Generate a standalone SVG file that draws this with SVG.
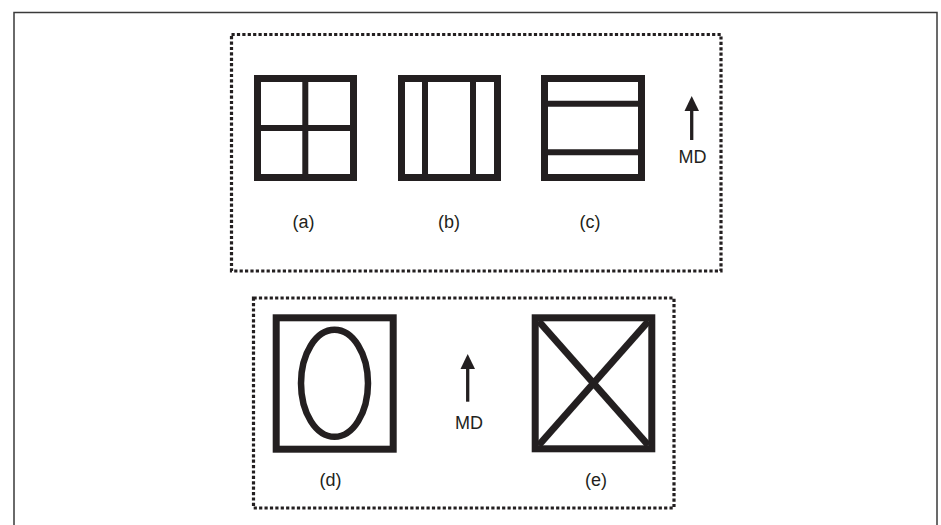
<svg xmlns="http://www.w3.org/2000/svg" width="941" height="525" viewBox="0 0 941 525">
<style>
.frame{fill:none;stroke:#3a3a3a;stroke-width:1.5}
.dot{fill:none;stroke:#231f20;stroke-width:3.2;stroke-dasharray:3.2 2.2}
.box{fill:none;stroke:#231f20;stroke-width:7}
.bar{stroke:#231f20;stroke-width:6}
.lbl{font-family:"Liberation Sans",Arial,sans-serif;font-size:18px;fill:#231f20;text-anchor:middle}
.ar{stroke:#231f20;stroke-width:3.3}
.ah{fill:#231f20}
</style>
<rect width="941" height="525" fill="#fff"/>
<rect class="frame" x="14" y="12.5" width="923" height="530"/>
<g id="group-top">
<rect class="dot" x="231.5" y="34.5" width="489.5" height="236.5"/>
</g>
<g id="group-bottom">
<rect class="dot" x="253.5" y="298" width="420.5" height="210"/>
</g>
<g id="node-a">
<rect class="box" x="257.5" y="78.5" width="96" height="99"/>
<line class="bar" x1="305.3" y1="78.5" x2="305.3" y2="177.5"/>
<line class="bar" x1="257.5" y1="128" x2="353.5" y2="128"/>
<text class="lbl" x="303.5" y="227.5">(a)</text>
</g>
<g id="node-b">
<rect class="box" x="401.5" y="78.5" width="96" height="99"/>
<line class="bar" x1="425" y1="78.5" x2="425" y2="177.5"/>
<line class="bar" x1="473" y1="78.5" x2="473" y2="177.5"/>
<text class="lbl" x="449" y="227.5">(b)</text>
</g>
<g id="node-c">
<rect class="box" x="544.5" y="78.5" width="97" height="99"/>
<line class="bar" x1="544.5" y1="103.7" x2="641.5" y2="103.7"/>
<line class="bar" x1="544.5" y1="152.3" x2="641.5" y2="152.3"/>
<text class="lbl" x="590" y="227.5">(c)</text>
</g>
<g id="md-top">
<line class="ar" x1="691.7" y1="108" x2="691.7" y2="140"/>
<polygon class="ah" points="691.7,96 684.5,111 699,111"/>
<text class="lbl" x="692.5" y="163.3">MD</text>
</g>
<g id="node-d">
<rect class="box" x="276.2" y="317.8" width="117" height="131.4"/>
<ellipse cx="334.5" cy="383.3" rx="33.5" ry="53.5" fill="none" stroke="#231f20" stroke-width="6.5"/>
<text class="lbl" x="330.5" y="486">(d)</text>
</g>
<g id="md-bottom">
<line class="ar" x1="467.7" y1="366" x2="467.7" y2="401.7"/>
<polygon class="ah" points="467.7,354 460.5,369 475,369"/>
<text class="lbl" x="469" y="429">MD</text>
</g>
<g id="node-e">
<rect class="box" x="535.2" y="317.8" width="116.6" height="131"/>
<g class="bar" style="stroke-width:7">
<line x1="538.7" y1="321.3" x2="648.3" y2="445.3"/>
<line x1="648.3" y1="321.3" x2="538.7" y2="445.3"/>
</g>
<text class="lbl" x="596" y="486">(e)</text>
</g>
<g id="connectors"></g>
</svg>
